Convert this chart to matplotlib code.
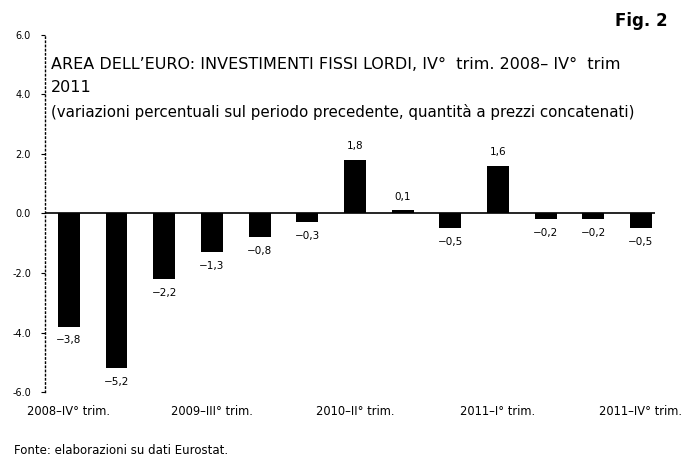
import matplotlib
matplotlib.use('Agg')
import matplotlib.pyplot as plt

plt.rcParams['font.family'] = ['DejaVu Sans']

# quarterly changes, IV trim. 2008 - IV trim. 2011
values = [-3.8, -5.2, -2.2, -1.3, -0.8, -0.3, 1.8, 0.1, -0.5, 1.6, -0.2, -0.2, -0.5]
value_labels = ['\u22123,8', '\u22125,2', '\u22122,2', '\u22121,3', '\u22120,8', '\u22120,3', '1,8',
                '0,1', '\u22120,5', '1,6', '\u22120,2', '\u22120,2', '\u22120,5']
tick_positions = [0, 3, 6, 9, 12]
tick_labels = ['2008\u2013IV\u00b0 trim.', '2009\u2013III\u00b0 trim.', '2010\u2013II\u00b0 trim.',
               '2011\u2013I\u00b0 trim.', '2011\u2013IV\u00b0 trim.']
y_ticks = [-6, -4, -2, 0, 2, 4, 6]

fig = plt.figure(figsize=(6.88, 4.58), dpi=100)
ax = fig.add_axes([0.0654, 0.144, 0.887, 0.780])

x = list(range(len(values)))
ax.bar(x, values, width=0.46, color='black', zorder=3)
ax.axhline(0, color='black', linewidth=1.2, zorder=2)

# value labels above / below each bar
for xi, v, lab in zip(x, values, value_labels):
    if v >= 0:
        ax.text(xi, v + 0.3, lab, ha='center', va='bottom', fontsize=7.5)
    else:
        ax.text(xi, v - 0.3, lab, ha='center', va='top', fontsize=7.5)

ax.set_xlim(-0.5, 12.3)
ax.set_ylim(-6, 6)
ax.set_yticks(y_ticks)
ax.set_yticklabels(['%.1f' % t for t in y_ticks], fontsize=7)
ax.tick_params(axis='y', length=3, width=0.8, pad=7)
ax.set_xticks(tick_positions)
ax.set_xticklabels(tick_labels, fontsize=8.3)
ax.tick_params(axis='x', length=0, pad=9)

for s in ['top', 'right', 'bottom']:
    ax.spines[s].set_visible(False)
ax.spines['left'].set_linestyle((0, (1, 2)))
ax.spines['left'].set_linewidth(1.0)

# titles
fig.text(0.074, 0.860, 'AREA DELL\u2019EURO: INVESTIMENTI FISSI LORDI, IV\u00b0  trim. 2008\u2013 IV\u00b0  trim',
         fontsize=11.5, va='center')
fig.text(0.074, 0.808, '2011', fontsize=11.5, va='center')
fig.text(0.074, 0.756, '(variazioni percentuali sul periodo precedente, quantit\u00e0 a prezzi concatenati)',
         fontsize=10.8, va='center')
fig.text(0.97, 0.955, 'Fig. 2', fontsize=12, fontweight='bold', ha='right', va='center')
fig.text(0.02, 0.017, 'Fonte: elaborazioni su dati Eurostat.', fontsize=8.5, va='center')

fig.savefig('out.png', dpi=100)
